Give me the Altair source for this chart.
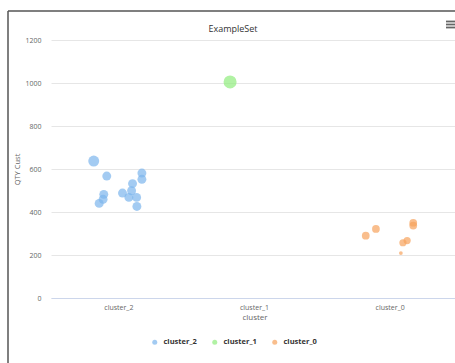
import altair as alt
import pandas as pd

# ---- data ----
order = ["cluster_2", "cluster_1", "cluster_0"]
colors = ["#7cb5ec", "#90ed7d", "#f7a35c"]

cluster = ["cluster_2"] * 13 + ["cluster_1"] + ["cluster_0"] * 7
qty_cust = [637, 567, 581, 552, 532, 488, 499, 468, 468, 482, 459, 440, 426,
            1005,
            290, 321, 350, 337, 267, 257, 209]
jitter = [-0.185, -0.089, 0.170, 0.170, 0.101, 0.027, 0.094, 0.074, 0.131, -0.111, -0.116, -0.145, 0.133,
          -0.18,
          -0.18, -0.105, 0.17, 0.17, 0.125, 0.094, 0.079]
weight = [6.0, 4.0, 4.0, 4.0, 4.0, 4.0, 4.0, 4.0, 4.0, 4.0, 4.0, 4.0, 4.0,
          8.5,
          3.0, 3.0, 3.0, 3.0, 2.6, 2.6, 0.7]
y_ticks = [0, 200, 400, 600, 800, 1000, 1200]
chart_title = "ExampleSet"

df = pd.DataFrame({"cluster": cluster, "qty": qty_cust, "jitter": jitter, "weight": weight})

FONT = "Open Sans"

points = alt.Chart(df).mark_circle(opacity=0.7).encode(
    x=alt.X(
        "cluster:N",
        sort=order,
        scale=alt.Scale(type="band", domain=order, range=[0, 407], paddingInner=0, paddingOuter=0),
        axis=alt.Axis(
            title="cluster", labelAngle=0, ticks=False, domainColor="#ccd6eb",
            labelColor="#666666", labelFontSize=7, labelFont=FONT, labelPadding=5,
            titleColor="#666666", titleFontSize=8, titleFont=FONT, titleFontWeight="normal",
            titlePadding=3,
        ),
    ),
    xOffset=alt.XOffset("jitter:Q", scale=alt.Scale(domain=[-0.5, 0.5])),
    y=alt.Y(
        "qty:Q",
        scale=alt.Scale(domain=[0, 1200]),
        axis=alt.Axis(
            title="QTY Cust", values=y_ticks, format="d", grid=True, gridColor="#e6e6e6",
            domain=False, ticks=False, labelColor="#666666", labelFontSize=7,
            labelFont=FONT, labelPadding=10,
            titleColor="#666666", titleFontSize=7.5, titleFont=FONT,
            titleFontWeight="normal", titleX=-30, titleY=129,
        ),
    ),
    color=alt.Color(
        "cluster:N",
        scale=alt.Scale(domain=order, range=colors),
        legend=alt.Legend(
            title=None, orient="none", direction="horizontal", legendX=100, legendY=298,
            symbolType="circle", symbolSize=25, labelFontSize=7.5, labelFontWeight="bold",
            labelColor="#333333", labelFont=FONT, columnPadding=14, labelOffset=5,
        ),
    ),
    size=alt.Size("weight:Q", scale=alt.Scale(domain=[0, 10], range=[0, 200]), legend=None),
)

one = pd.DataFrame({"t": [chart_title]})
title_mark = alt.Chart(one).mark_text(
    font=FONT, fontSize=9, color="#333333", align="center", baseline="middle"
).encode(x=alt.value(182), y=alt.value(-11), text="t:N")
top_border = alt.Chart(one).mark_rule(color="#555555", strokeWidth=1.5).encode(
    x=alt.value(-43), x2=alt.value(420), y=alt.value(-29))
left_border = alt.Chart(one).mark_rule(color="#555555", strokeWidth=1.5).encode(
    x=alt.value(-43), y=alt.value(-29), y2=alt.value(330))
menu = [
    alt.Chart(one).mark_rule(color="#666666", strokeWidth=1.8).encode(
        x=alt.value(395), x2=alt.value(410), y=alt.value(yy))
    for yy in (-18.5, -15.5, -12.5)
]

chart = alt.layer(points, title_mark, top_border, left_border, *menu).properties(
    width=404,
    height=258,
    padding={"left": 51, "top": 40, "right": 0, "bottom": 65},
    autosize=alt.AutoSizeParams(type="none"),
).configure_view(strokeWidth=0)

chart.save("out.html", embed_options={"renderer": "svg", "actions": False})
